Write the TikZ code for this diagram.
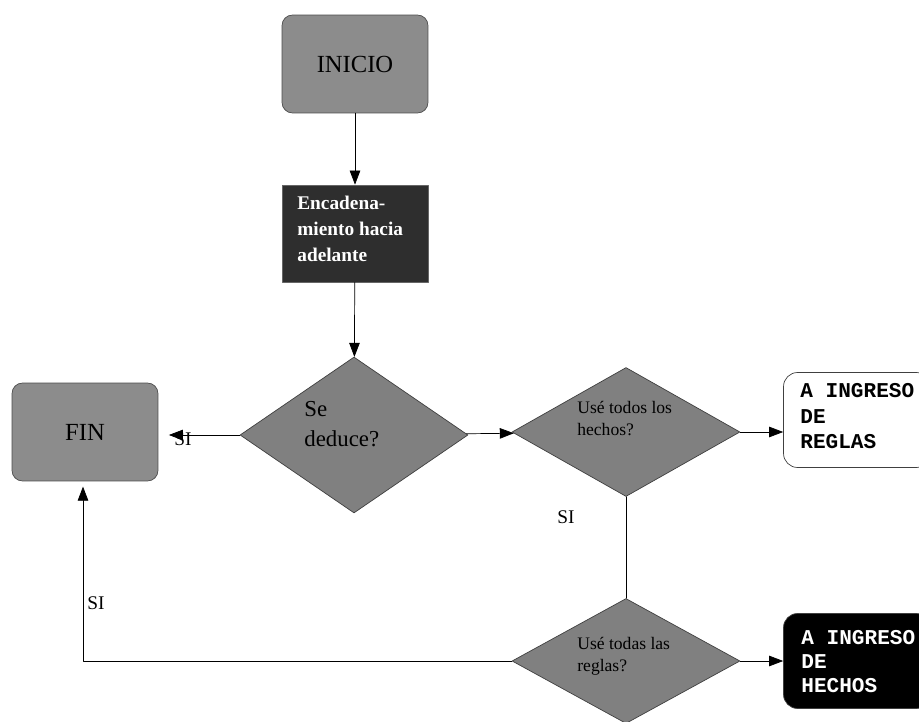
\documentclass[tikz,border=0pt]{standalone}
\usepackage{fontspec}
\setmainfont{Liberation Serif}
\newfontfamily\cajafont{Liberation Mono}
\usetikzlibrary{shapes.geometric,arrows.meta}

\begin{document}
\begin{tikzpicture}[
  x=0.02cm, y=-0.02cm,
  line cap=round,
  line join=round,
  flecha/.style={-{Triangle[length=8pt,width=6pt]}, thin},
  inicio/.style={draw=black!70, fill=black!45, rounded corners=6pt,
    minimum width=2.92cm, minimum height=1.96cm, font=\fontsize{14}{16}\selectfont},
  proceso/.style={draw=black!60, fill=black!82, minimum width=2.92cm, minimum height=1.94cm},
  decision/.style={diamond, draw=black!75, fill=black!50, inner sep=0pt},
  destino/.style={draw=black!75, rounded corners=8pt, minimum width=2.94cm, minimum height=1.9cm},
  texto/.style={align=left, anchor=north west, inner sep=0pt},
  si/.style={font=\fontsize{11}{12}\selectfont}
]
  % Marco
  \useasboundingbox (0,0) rectangle (919,722);
  \clip (0,0) rectangle (919,722);

  % Cajas
  \node[inicio] (inicio) at (355,64) {INICIO};
  \node[proceso] (encad) at (355,233.5) {};
  \node[texto, text=white, font=\bfseries\fontsize{11}{14.6}\selectfont]
    (tencad) at (297,196) {Encadena-\\miento hacia\\adelante};
  \node[inicio] (fin) at (85,432) {FIN};

  % Decisiones
  \node[decision, minimum width=4.56cm, minimum height=3.12cm] (deduce) at (354,435) {};
  \node[texto, font=\fontsize{13}{17}\selectfont] (tdeduce) at (304,401) {Se\\deduce?};

  \node[decision, minimum width=4.56cm, minimum height=2.58cm] (hechos) at (626,432) {};
  \node[texto, font=\fontsize{10}{12.5}\selectfont] (thechos) at (577,401) {Usé todos los\\hechos?};

  \node[decision, minimum width=4.56cm, minimum height=2.5cm] (reglas) at (626,661) {};
  \node[texto, font=\fontsize{10}{12.5}\selectfont] (treglas) at (577,637) {Usé todas las\\reglas?};

  % Destinos
  \node[destino, fill=white] (aregl) at (857,420) {};
  \node[texto, font=\cajafont\bfseries\fontsize{12}{14.6}\selectfont]
    (taregl) at (800,383) {A INGRESO\\DE\\REGLAS};
  \node[destino, fill=black] (ahech) at (857,661) {};
  \node[texto, text=white, font=\cajafont\bfseries\fontsize{12}{13.8}\selectfont]
    (tahech) at (801,630) {A INGRESO\\DE\\HECHOS};

  % Conectores
  \draw[flecha] (inicio) -- (encad);
  \draw[flecha] (encad) -- (deduce);
  \draw[flecha, shorten >=6pt] (deduce.west) -- (deduce.west -| fin.east);
  \draw[flecha] (deduce) -- (hechos);
  \draw[flecha] (hechos.east) -- (hechos.east -| aregl.west);
  \draw[thin] (hechos) -- (reglas);
  \draw[flecha] (reglas) -- (ahech);
  \coordinate (esquina) at (83,658);
  \draw[flecha, shorten >=3pt] (reglas.west) -- (reglas.west -| esquina) -- (fin.south -| esquina);

  % Etiquetas
  \node[si] (si1) at (183,439) {SI};
  \node[si] (si2) at (566,517) {SI};
  \node[si] (si3) at (96,603) {SI};
\end{tikzpicture}
\end{document}
